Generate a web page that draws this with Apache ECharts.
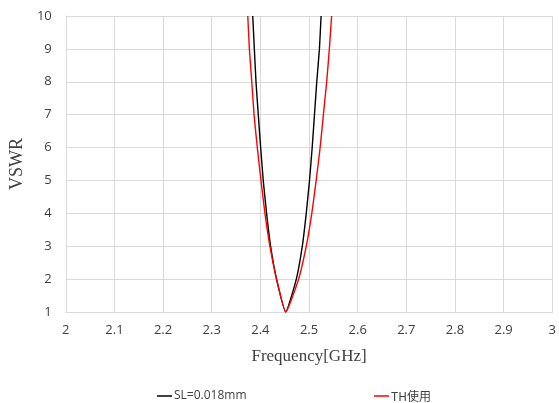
<!DOCTYPE html>
<html><head><meta charset="utf-8">
<script src="https://cdn.jsdelivr.net/npm/echarts@6/dist/echarts.min.js"></script>
<style>html,body{margin:0;padding:0;background:#fff}#c{width:559px;height:403px}</style>
</head><body><div id="c"></div>
<script>
var xTicks = [2, 2.1, 2.2, 2.3, 2.4, 2.5, 2.6, 2.7, 2.8, 2.9, 3];
var yTicks = [1, 2, 3, 4, 5, 6, 7, 8, 9, 10];
var seriesNames = ['SL=0.018mm', 'TH使用'];
// SL=0.018mm : frequency (GHz), VSWR
var slFreq = [2.3843, 2.3876, 2.3910, 2.3957, 2.4006, 2.4059, 2.4128, 2.4210, 2.4332, 2.4521, 2.4739, 2.4862, 2.4943, 2.5010, 2.5065, 2.5112, 2.5159, 2.5214, 2.5248];
var slVswr = [10, 9, 8, 7, 6, 5, 4, 3, 2, 1, 2, 3, 4, 5, 6, 7, 8, 9, 10];
// TH使用
var thFreq = [2.3741, 2.3774, 2.3823, 2.3870, 2.3937, 2.4012, 2.4094, 2.4196, 2.4332, 2.4521, 2.4786, 2.4943, 2.5057, 2.5147, 2.5228, 2.5295, 2.5363, 2.5418, 2.5464];
var thVswr = [10, 9, 8, 7, 6, 5, 4, 3, 2, 1, 2, 3, 4, 5, 6, 7, 8, 9, 10];

function pairs(a, b) { return a.map(function (v, i) { return [v, b[i]]; }); }

var chart = echarts.init(document.getElementById('c'));
var labelFont = { fontFamily: 'Open Sans', fontSize: 13, color: '#404040' };
chart.setOption({
  animation: false,
  grid: { left: 63, right: 2, top: 16, bottom: 91, containLabel: false },
  xAxis: {
    type: 'value', min: 2, max: 3, interval: 0.1,
    name: 'Frequency[GHz]', nameLocation: 'middle', nameGap: 36,
    nameTextStyle: { fontFamily: 'Liberation Serif', fontSize: 17, color: '#404040' },
    axisLine: { show: true, lineStyle: { color: '#d9d9d9', width: 1 } },
    axisTick: { show: false },
    splitLine: { show: true, lineStyle: { color: '#d9d9d9', width: 1 } },
    axisLabel: Object.assign({ margin: 12, formatter: function (v) { return String(Math.round(v * 10) / 10); } }, labelFont)
  },
  yAxis: {
    type: 'value', min: 1, max: 10, interval: 1,
    name: 'VSWR', nameLocation: 'middle', nameGap: 32, nameRotate: 90,
    nameTextStyle: { fontFamily: 'Liberation Serif', fontSize: 18, color: '#404040' },
    axisLine: { show: true, lineStyle: { color: '#d9d9d9', width: 1 } },
    axisTick: { show: false },
    splitLine: { show: true, lineStyle: { color: '#d9d9d9', width: 1 } },
    axisLabel: Object.assign({ margin: 14 }, labelFont)
  },
  legend: [
    { data: [seriesNames[0]], left: 152, top: 385, icon: 'rect', itemWidth: 15, itemHeight: 1.5, itemGap: 2,
      textStyle: { fontFamily: 'Open Sans', fontSize: 12, color: '#404040', padding: [0, 0, 0, -3] } },
    { data: [seriesNames[1]], left: 369, top: 385, icon: 'rect', itemWidth: 15, itemHeight: 1.5, itemGap: 2,
      textStyle: { fontFamily: 'Noto Sans CJK JP', fontSize: 12, color: '#404040', padding: [0, 0, 0, -3] } }
  ],
  series: [
    { name: seriesNames[0], type: 'line', data: pairs(slFreq, slVswr), smooth: 0.15, showSymbol: false, symbol: 'none',
      lineStyle: { color: '#000000', width: 1.4 }, itemStyle: { color: '#000000' }, clip: true },
    { name: seriesNames[1], type: 'line', data: pairs(thFreq, thVswr), smooth: 0.15, showSymbol: false, symbol: 'none',
      lineStyle: { color: '#ff0000', width: 1.4 }, itemStyle: { color: '#ff0000' }, clip: true }
  ]
});
</script></body></html>
